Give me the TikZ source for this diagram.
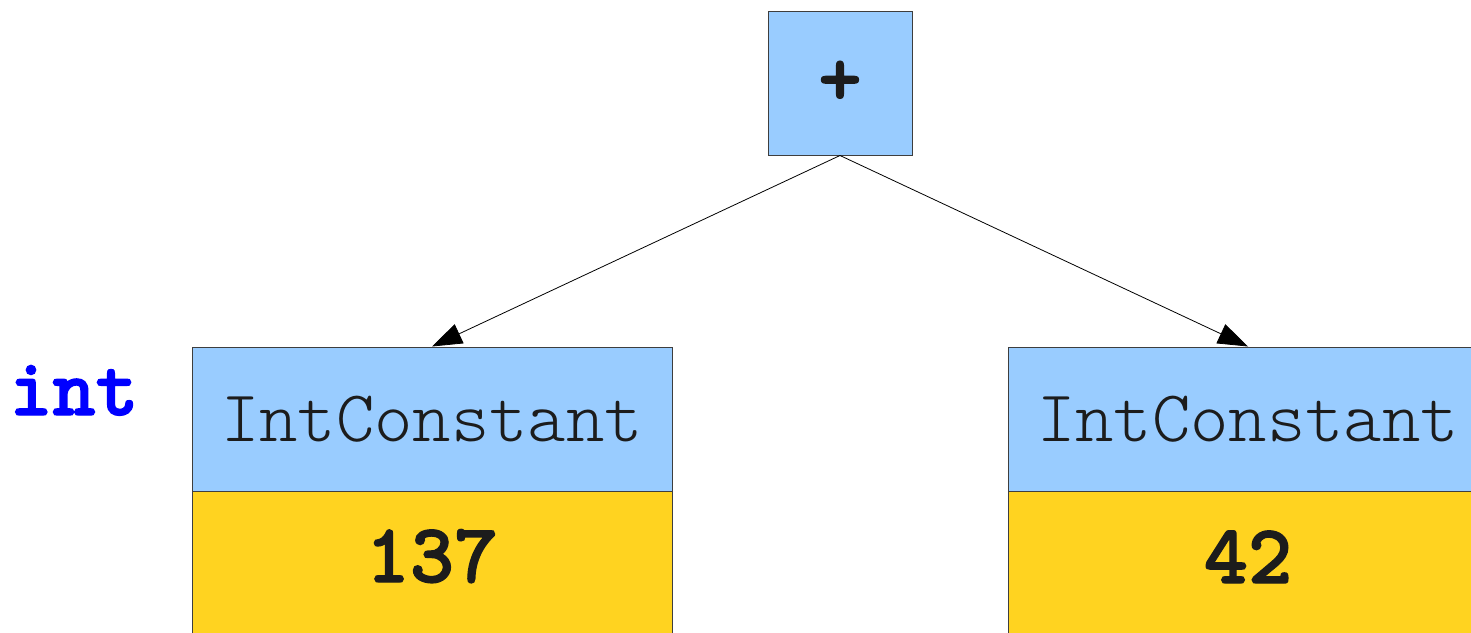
\documentclass[tikz,border=0pt]{standalone}
\usepackage{fontspec}
\newfontfamily\codefont{lmmonolt10-regular.otf}[BoldFont=lmmonolt10-bold.otf,BoldFeatures={FakeBold=1.6}]
\usetikzlibrary{arrows.meta}
\definecolor{nodeblue}{HTML}{99CCFF}
\definecolor{valyellow}{HTML}{FFD320}
\definecolor{ink}{HTML}{1C1C1C}
\definecolor{typeblue}{HTML}{0000FF}
\tikzset{
  box/.style={draw=ink!85, line width=1pt, inner sep=0pt, text=ink},
  opbox/.style={box, fill=nodeblue, minimum width=144pt, minimum height=144pt,
    font=\codefont\bfseries\fontsize{82}{88}\selectfont},
  namebox/.style={box, fill=nodeblue, minimum width=480pt, minimum height=144pt,
    font=\codefont\fontsize{73}{80}\selectfont},
  valbox/.style={box, fill=valyellow, minimum width=480pt, minimum height=160pt, anchor=north},
  valtext/.style={inner sep=0pt, anchor=base, text=ink,
    font=\codefont\bfseries\fontsize{84}{90}\selectfont},
  typetext/.style={inner sep=0pt, anchor=base, text=typeblue,
    font=\codefont\bfseries\fontsize{82}{88}\selectfont},
  edge/.style={draw=black, line width=0.8pt, -{Triangle[length=30pt,width=21pt]}}
}
\begin{document}
\begin{tikzpicture}[x=1pt, y=-1pt]
  \useasboundingbox (0,0) rectangle (1471,632);
  % operator node
  \node[opbox] (plus) at (840,83) {+};
  % left operand
  \node[valbox] (lval) at (432,491) {};
  \node[namebox] (lname) at (432,419) {IntConstant};
  \node[valtext] (lnum) at (432,582) {137};
  % right operand
  \node[valbox] (rval) at (1248,491) {};
  \node[namebox] (rname) at (1248,419) {IntConstant};
  \node[valtext] (rnum) at (1248,583) {42};
  % static type annotation
  \node[typetext] (ltype) at (74,415) {int};
  % edges
  \draw[edge] (plus.south) -- (lname.north);
  \draw[edge] (plus.south) -- (rname.north);
\end{tikzpicture}
\end{document}
